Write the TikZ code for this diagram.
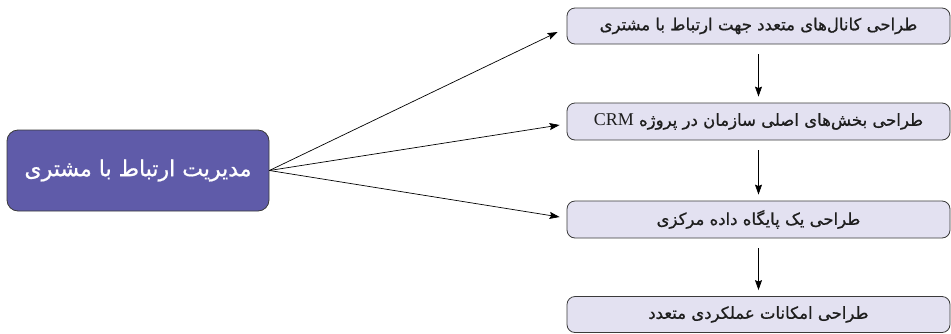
\documentclass[tikz,border=0pt]{standalone}
\usepackage{fontspec}
\TeXXeTstate=1
\setmainfont{Liberation Serif}
\newfontfamily\fa[Script=Arabic,FakeBold=0.8]{DejaVu Sans}
\usetikzlibrary{arrows.meta}
\definecolor{mainfill}{HTML}{5F5BA9}
\definecolor{stepfill}{HTML}{E3E1F1}
\definecolor{edge}{HTML}{3A3A3A}
\definecolor{ink}{HTML}{1E1E1E}
\tikzset{
  mainbox/.style={draw=edge, line width=0.8pt, fill=mainfill, rounded corners=11pt,
    minimum width=262pt, minimum height=81pt, inner sep=0pt, text=white,
    font=\fa\fontsize{22}{26}\selectfont},
  stepbox/.style={draw=edge, line width=0.8pt, fill=stepfill, rounded corners=8pt,
    minimum width=383pt, minimum height=36pt, inner sep=0pt, text=ink,
    font=\fa\fontsize{16.5}{19}\selectfont},
  arr/.style={draw=black, line width=0.7pt, -{Stealth[length=10pt,width=7pt,inset=1.5pt]}}
}
\begin{document}
\begin{tikzpicture}[x=1pt,y=-1pt]
\useasboundingbox (0,0) rectangle (951,333);
\node[mainbox] (m) at (138,170.5) {\beginR مدیریت ارتباط با مشتری\endR};
\node[stepbox] (b1) at (758.5,26) {\beginR طراحی کانال^^^^200cهای متعدد جهت ارتباط با مشتری\endR};
\node[stepbox, minimum height=37pt] (b2) at (758.5,121.5) {\beginR طراحی بخش^^^^200cهای اصلی سازمان در پروژه {\rmfamily\fontsize{18}{20}\selectfont\beginL CRM\endL}\endR};
\node[stepbox, minimum height=37pt] (b3) at (758.5,219.5) {\beginR طراحی یک پایگاه داده مرکزی\endR};
\node[stepbox] (b4) at (758.5,314.5) {\beginR طراحی امکانات عملکردی متعدد\endR};
\draw[arr] (m.east) -- ([xshift=-9pt,yshift=-6pt]b1.west);
\draw[arr] (m.east) -- ([xshift=-7pt,yshift=-3.5pt]b2.west);
\draw[arr] (m.east) -- ([xshift=-7pt,yshift=2.5pt]b3.west);
\draw[arr, shorten <=10pt, shorten >=6pt] (b1.south) -- (b2.north);
\draw[arr, shorten <=10pt, shorten >=6pt] (b2.south) -- (b3.north);
\draw[arr, shorten <=10pt, shorten >=6pt] (b3.south) -- (b4.north);
\end{tikzpicture}
\end{document}
